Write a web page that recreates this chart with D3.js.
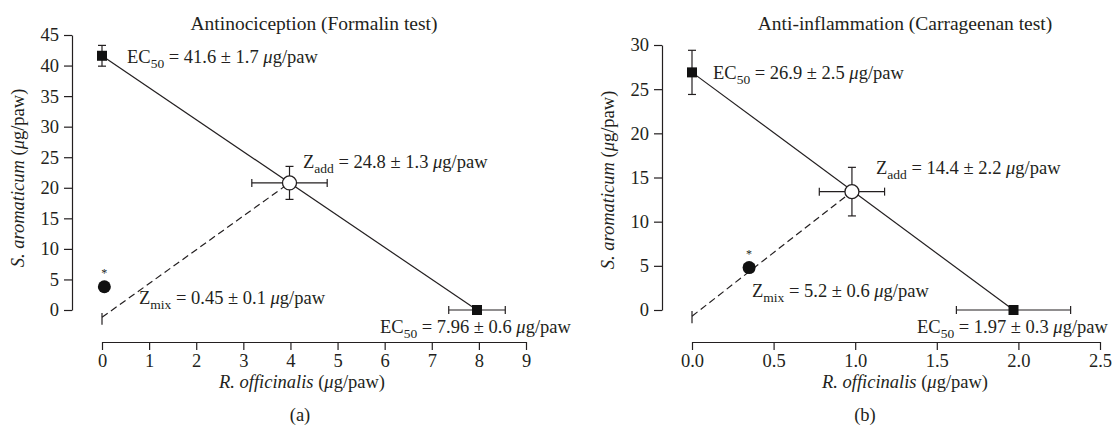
<!DOCTYPE html>
<html>
<head>
<meta charset="utf-8">
<script src="https://cdn.jsdelivr.net/npm/d3@7"></script>
<style>
  html, body { margin: 0; padding: 0; background: #fff; }
  svg { display: block; }
  svg text { font-family: "Liberation Serif", "Times New Roman", serif; }
</style>
</head>
<body>
<svg id="chart" width="1113" height="435"></svg>
<script>
// ---------------- DATA ----------------
// Panel (a): Antinociception (Formalin test)
const titleA = "Antinociception (Formalin test)";
const xTicksA = [0, 1, 2, 3, 4, 5, 6, 7, 8, 9];
const yTicksA = [0, 5, 10, 15, 20, 25, 30, 35, 40, 45];
const ec50A = [ // individual EC50 (x: R. officinalis, y: S. aromaticum)
  { x: 0, y: 41.6, ex: 0, ey: 1.7 },
  { x: 7.96, y: 0, ex: 0.6, ey: 0 }
];
const zaddA = { x: 3.98, y: 20.8, ex: 0.8, ey: 2.7 };
const zmixA = { x: 0.05, y: 3.8, ex: 0, ey: 0 };
const originA = { x: 0, y: -1.2, lo: -0.5, hi: -2.4 };
const labelsA = [
  { main: "EC", sub: "50", rest: " = 41.6 ± 1.7 " },
  { main: "Z", sub: "add", rest: " = 24.8 ± 1.3 " },
  { main: "Z", sub: "mix", rest: " = 0.45 ± 0.1 " },
  { main: "EC", sub: "50", rest: " = 7.96 ± 0.6 " }
];

// Panel (b): Anti-inflammation (Carrageenan test)
const titleB = "Anti-inflammation (Carrageenan test)";
const xTicksB = [0, 0.5, 1.0, 1.5, 2.0, 2.5];
const yTicksB = [0, 5, 10, 15, 20, 25, 30];
const ec50B = [
  { x: 0, y: 26.9, ex: 0, ey: 2.5 },
  { x: 1.97, y: 0, ex: 0.35, ey: 0 }
];
const zaddB = { x: 0.98, y: 13.4, ex: 0.2, ey: 2.75 };
const zmixB = { x: 0.35, y: 4.8, ex: 0.03, ey: 0 };
const originB = { x: 0, y: -0.7, lo: -0.1, hi: -1.5 };
const labelsB = [
  { main: "EC", sub: "50", rest: " = 26.9 ± 2.5 " },
  { main: "Z", sub: "add", rest: " = 14.4 ± 2.2 " },
  { main: "Z", sub: "mix", rest: " = 5.2 ± 0.6 " },
  { main: "EC", sub: "50", rest: " = 1.97 ± 0.3 " }
];

// ---------------- LAYOUT ----------------
const ink = "#231f20";
const FONT = "Liberation Serif, Times New Roman, serif";
const FS = 18.5;
const svg = d3.select("#chart");

const panels = [
  {
    title: titleA, tag: "(a)", xTicks: xTicksA, yTicks: yTicksA,
    xDomain: [0, 9], yDomain: [0, 45],
    xRange: [102, 526], yRange: [310, 35], yAxisX: 72, xAxisY: 342,
    xFmt: d3.format("d"), ec50: ec50A, zadd: zaddA, zmix: zmixA, origin: originA,
    labels: labelsA,
    labelPos: [[127, 63], [303, 168], [139, 304], [380, 333]],
    titleX: 314, tagX: 300, xLabelX: 302, yLabelX: 24, yLabelY: 178
  },
  {
    title: titleB, tag: "(b)", xTicks: xTicksB, yTicks: yTicksB,
    xDomain: [0, 2.5], yDomain: [0, 30],
    xRange: [692, 1100], yRange: [310, 45], yAxisX: 662, xAxisY: 342,
    xFmt: d3.format(".1f"), ec50: ec50B, zadd: zaddB, zmix: zmixB, origin: originB,
    labels: labelsB,
    labelPos: [[713, 79], [876, 174], [752, 297], [917, 333]],
    titleX: 905, tagX: 865, xLabelX: 905, yLabelX: 614, yLabelY: 180
  }
];

function txt(g) {
  return g.append("text").attr("font-family", FONT).attr("font-size", FS).attr("fill", ink);
}

function drawLabel(g, lab, x, y) {
  const t = txt(g).attr("x", x).attr("y", y);
  t.append("tspan").text(lab.main);
  t.append("tspan").attr("font-size", 13.5).attr("dy", 5).text(lab.sub);
  t.append("tspan").attr("dy", -5).text(lab.rest);
  t.append("tspan").attr("font-style", "italic").text("μ");
  t.append("tspan").text("g/paw");
}

function errorBars(g, p, x, y, cap) {
  const seg = (x1, y1, x2, y2) => g.append("line")
    .attr("x1", x1).attr("y1", y1).attr("x2", x2).attr("y2", y2)
    .attr("stroke", ink).attr("stroke-width", 1.2);
  if (p.ey) {
    seg(x(p.x), y(p.y - p.ey), x(p.x), y(p.y + p.ey));
    [p.y - p.ey, p.y + p.ey].forEach(v => seg(x(p.x) - cap, y(v), x(p.x) + cap, y(v)));
  }
  if (p.ex) {
    seg(x(p.x - p.ex), y(p.y), x(p.x + p.ex), y(p.y));
    [p.x - p.ex, p.x + p.ex].forEach(v => seg(x(v), y(p.y) - cap, x(v), y(p.y) + cap));
  }
}

panels.forEach(P => {
  const g = svg.append("g");
  const x = d3.scaleLinear().domain(P.xDomain).range(P.xRange);
  const y = d3.scaleLinear().domain(P.yDomain).range(P.yRange);

  // axes
  const yAxis = d3.axisLeft(y).tickValues(P.yTicks).tickSize(8).tickSizeOuter(0).tickPadding(5);
  const gy = g.append("g").attr("transform", `translate(${P.yAxisX},0)`).call(yAxis);
  const xAxis = d3.axisBottom(x).tickValues(P.xTicks).tickFormat(P.xFmt).tickSize(8).tickSizeOuter(0).tickPadding(4);
  const gx = g.append("g").attr("transform", `translate(0,${P.xAxisY})`).call(xAxis);
  [gx, gy].forEach(a => {
    a.attr("font-family", FONT).attr("font-size", FS);
    a.select(".domain").attr("stroke", ink).attr("stroke-width", 1.2);
    a.selectAll(".tick line").attr("stroke", ink).attr("stroke-width", 1.2);
    a.selectAll(".tick text").attr("fill", ink);
  });

  // title
  txt(g).attr("x", P.titleX).attr("y", 30).attr("text-anchor", "middle")
    .attr("font-size", 19.5).text(P.title);

  // axis labels
  const xl = txt(g).attr("x", P.xLabelX).attr("y", 388).attr("text-anchor", "middle");
  xl.append("tspan").attr("font-style", "italic").text("R. officinalis");
  xl.append("tspan").text(" (");
  xl.append("tspan").attr("font-style", "italic").text("μ");
  xl.append("tspan").text("g/paw)");

  const yl = txt(g).attr("transform", `translate(${P.yLabelX},${P.yLabelY}) rotate(-90)`)
    .attr("text-anchor", "middle");
  yl.append("tspan").attr("font-style", "italic").text("S. aromaticum");
  yl.append("tspan").text(" (");
  yl.append("tspan").attr("font-style", "italic").text("μ");
  yl.append("tspan").text("g/paw)");

  txt(g).attr("x", P.tagX).attr("y", 421).attr("text-anchor", "middle").text(P.tag);

  // additivity line
  g.append("line")
    .attr("x1", x(P.ec50[0].x)).attr("y1", y(P.ec50[0].y))
    .attr("x2", x(P.ec50[1].x)).attr("y2", y(P.ec50[1].y))
    .attr("stroke", ink).attr("stroke-width", 1.2);

  // dashed line from origin to Zadd
  g.append("line")
    .attr("x1", x(P.origin.x)).attr("y1", y(P.origin.y))
    .attr("x2", x(P.zadd.x)).attr("y2", y(P.zadd.y))
    .attr("stroke", ink).attr("stroke-width", 1.2).attr("stroke-dasharray", "7,4");
  g.append("line")
    .attr("x1", x(P.origin.x)).attr("x2", x(P.origin.x))
    .attr("y1", y(P.origin.lo)).attr("y2", y(P.origin.hi))
    .attr("stroke", ink).attr("stroke-width", 1.2);

  // error bars
  P.ec50.forEach(p => errorBars(g, p, x, y, 4));
  errorBars(g, P.zadd, x, y, 4);
  errorBars(g, P.zmix, x, y, 4);

  // squares
  g.selectAll(null).data(P.ec50).enter().append("rect")
    .attr("x", d => x(d.x) - 5).attr("y", d => y(d.y) - 5)
    .attr("width", 10).attr("height", 10).attr("fill", "#111");

  // open circle Zadd
  g.append("circle").attr("cx", x(P.zadd.x)).attr("cy", y(P.zadd.y)).attr("r", 7)
    .attr("fill", "#fff").attr("stroke", ink).attr("stroke-width", 1.3);

  // filled circle Zmix
  g.append("circle").attr("cx", x(P.zmix.x)).attr("cy", y(P.zmix.y)).attr("r", 6.5)
    .attr("fill", "#111");
  txt(g).attr("x", x(P.zmix.x)).attr("y", y(P.zmix.y) - 10)
    .attr("text-anchor", "middle").attr("font-size", 12).text("*");

  // annotations
  P.labels.forEach((lab, i) => drawLabel(g, lab, P.labelPos[i][0], P.labelPos[i][1]));
});
</script>
</body>
</html>
